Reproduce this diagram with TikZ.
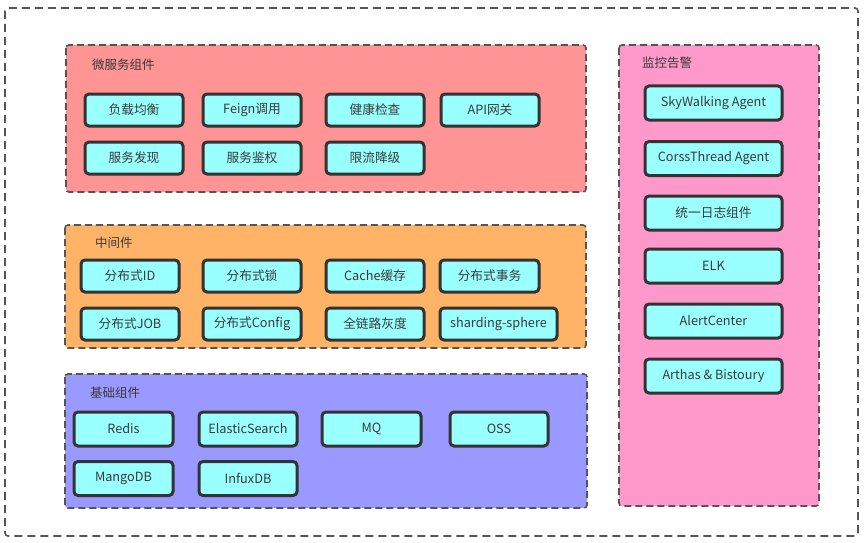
\documentclass[tikz,border=0pt]{standalone}
\usepackage{fontspec}
\setmainfont{Noto Sans CJK SC}
\definecolor{panelred}{HTML}{FF9494}
\definecolor{panelorange}{HTML}{FFB366}
\definecolor{panelblue}{HTML}{9999FF}
\definecolor{panelpink}{HTML}{FF99CC}
\definecolor{boxcyan}{HTML}{99FFFF}
\definecolor{edgegray}{HTML}{333333}
\definecolor{dashgray}{HTML}{555555}
\definecolor{txtgray}{HTML}{3A3A3A}
\tikzset{
  panel/.style={draw=dashgray, line width=1.6pt, dash pattern=on 7pt off 4pt, rounded corners=3pt},
  comp/.style={draw=edgegray, fill=boxcyan, line width=3pt, rounded corners=4pt,
    minimum height=32pt, inner sep=0pt, font=\fontsize{12.7}{14}\selectfont, text=txtgray},
  title/.style={anchor=west, inner sep=0pt, font=\fontsize{12.5}{14}\selectfont, text=txtgray},
}
\begin{document}
\begin{tikzpicture}[x=1pt,y=-1pt]
\useasboundingbox (0,0) rectangle (865,543);
% outer frame
\draw[dashgray, line width=1.6pt, dash pattern=on 8pt off 5pt, rounded corners=3pt] (5,8) rectangle (858,536);
% panels
\draw[panel, fill=panelred] (66,45) rectangle (586,192);
\draw[panel, fill=panelorange] (65,225) rectangle (586,348);
\draw[panel, fill=panelblue] (65,374) rectangle (587,508);
\draw[panel, fill=panelpink] (619,45) rectangle (819,506);
% titles
\node[title] (t1) at (92,65) {微服务组件};
\node[title] (t2) at (95,243) {中间件};
\node[title] (t3) at (90,393) {基础组件};
\node[title] (t4) at (642,63) {监控告警};
% micro service
\node[comp, minimum width=98pt] (a1) at (134,110) {负载均衡};
\node[comp, minimum width=98pt] (a2) at (252,110) {Feign调用};
\node[comp, minimum width=98pt] (a3) at (375,110) {健康检查};
\node[comp, minimum width=98pt] (a4) at (490,110) {API网关};
\node[comp, minimum width=98pt] (a5) at (134,158) {服务发现};
\node[comp, minimum width=98pt] (a6) at (252,158) {服务鉴权};
\node[comp, minimum width=98pt] (a7) at (375,158) {限流降级};
% middleware
\node[comp, minimum width=98pt] (b1) at (130,276) {分布式ID};
\node[comp, minimum width=98pt] (b2) at (252,276) {分布式锁};
\node[comp, minimum width=98pt] (b3) at (375,276) {Cache缓存};
\node[comp, minimum width=99pt] (b4) at (489.5,276) {分布式事务};
\node[comp, minimum width=98pt] (b5) at (130,324) {分布式JOB};
\node[comp, minimum width=98pt] (b6) at (252,324) {分布式Config};
\node[comp, minimum width=98pt] (b7) at (375,324) {全链路灰度};
\node[comp, minimum width=117pt] (b8) at (498.5,324) {sharding-sphere};
% base
\node[comp, minimum width=99pt, minimum height=34pt] (c1) at (123.5,429) {Redis};
\node[comp, minimum width=98pt, minimum height=34pt] (c2) at (248,429) {ElasticSearch};
\node[comp, minimum width=99pt, minimum height=34pt] (c3) at (371.5,429) {MQ};
\node[comp, minimum width=98pt, minimum height=34pt] (c4) at (499,429) {OSS};
\node[comp, minimum width=99pt, minimum height=34pt] (c5) at (123.5,478.5) {MangoDB};
\node[comp, minimum width=98pt, minimum height=34pt] (c6) at (248,478.5) {InfuxDB};
% monitoring
\node[comp, minimum width=137pt, minimum height=34pt] (d1) at (713.5,103) {SkyWalking Agent};
\node[comp, minimum width=137pt, minimum height=34pt] (d2) at (713.5,158.5) {CorssThread Agent};
\node[comp, minimum width=137pt, minimum height=34pt] (d3) at (713.5,213) {统一日志组件};
\node[comp, minimum width=137pt, minimum height=34pt] (d4) at (713.5,266) {ELK};
\node[comp, minimum width=137pt, minimum height=34pt] (d5) at (713.5,321) {AlertCenter};
\node[comp, minimum width=137pt, minimum height=34pt] (d6) at (713.5,376) {Arthas \& Bistoury};
\end{tikzpicture}
\end{document}
